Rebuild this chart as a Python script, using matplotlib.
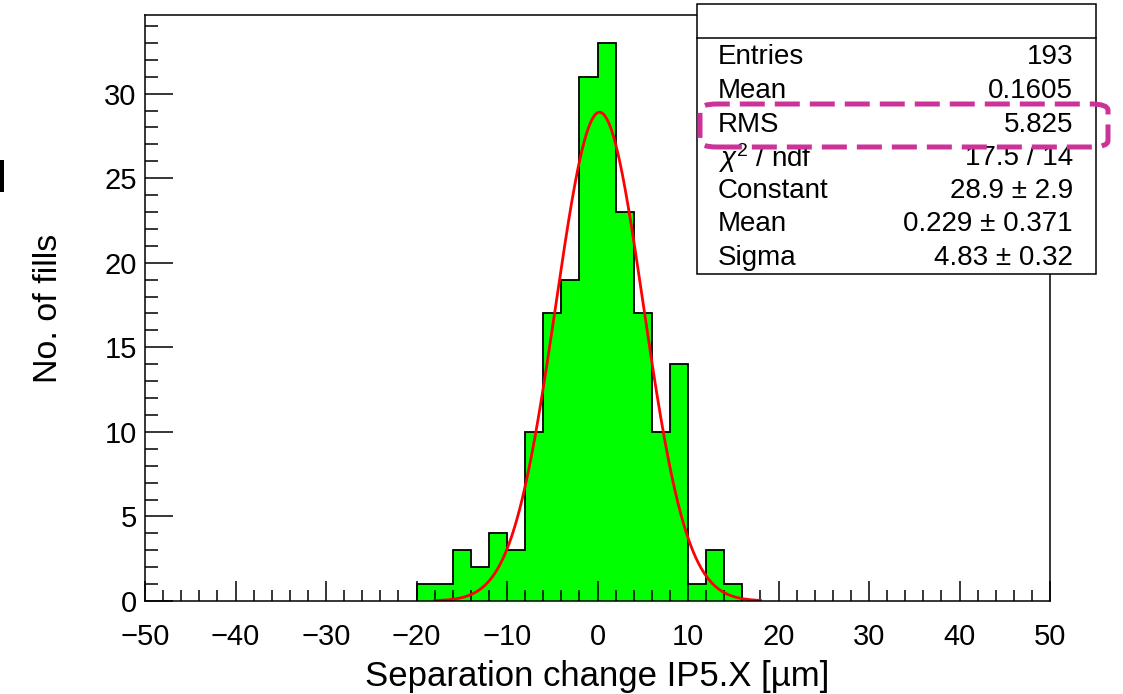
import numpy as np
import matplotlib
matplotlib.use("Agg")
import matplotlib.pyplot as plt
from matplotlib.patches import Rectangle, FancyBboxPatch
from matplotlib.ticker import MultipleLocator

plt.rcParams['font.family'] = ['Liberation Sans', 'DejaVu Sans']
plt.rcParams['mathtext.fontset'] = 'custom'
plt.rcParams['mathtext.rm'] = 'Liberation Sans'
plt.rcParams['mathtext.it'] = 'Liberation Sans:italic'

# ---------------------------------------------------------
# data
# ---------------------------------------------------------
bin_edges = np.arange(-20, 18, 2)
counts = [1, 1, 3, 2, 4, 3, 10, 17, 19, 31, 33, 23, 17, 10, 14, 1, 3, 1]

fit_const = 28.9
fit_mean = 0.229
fit_sigma = 4.83
fit_range = (-18, 18)

stat_names = ["Entries", "Mean", "RMS", r"$\chi^{2}$ / ndf", "Constant", "Mean", "Sigma"]
stat_values = ["193", "0.1605", "5.825", "17.5 / 14", "28.9 ± 2.9", "0.229 ± 0.371", "4.83 ± 0.32"]

W, H = 1123, 694
fig = plt.figure(figsize=(W / 100, H / 100), dpi=100)
ax = fig.add_axes([145 / W, 1 - 601 / H, (1050 - 145) / W, (601 - 15) / H])

# histogram
ax.bar(bin_edges[:-1], counts, width=2, align='edge', color='#00ff00', linewidth=0)
ax.stairs(counts, bin_edges, color='black', linewidth=1.3, baseline=0)

# gauss fit
xf = np.linspace(fit_range[0], fit_range[1], 400)
yf = fit_const * np.exp(-0.5 * ((xf - fit_mean) / fit_sigma) ** 2)
ax.plot(xf, yf, color='red', lw=2)

ax.set_xlim(-50, 50)
ax.set_ylim(0, 33 * 1.05)
ax.xaxis.set_major_locator(MultipleLocator(10))
ax.xaxis.set_minor_locator(MultipleLocator(2))
ax.yaxis.set_major_locator(MultipleLocator(5))
ax.yaxis.set_minor_locator(MultipleLocator(1))
ax.tick_params(axis='both', which='both', direction='in', top=False, right=False,
               width=1.1, labelsize=21)
ax.tick_params(axis='x', which='major', length=14.5, pad=16)
ax.tick_params(axis='x', which='minor', length=8)
ax.tick_params(axis='y', which='major', length=20, pad=6)
ax.tick_params(axis='y', which='minor', length=9.5)
for s in ax.spines.values():
    s.set_linewidth(1.1)

ax.set_xlabel("Separation change IP5.X [µm]", fontsize=25, labelpad=6)
ax.set_ylabel("No. of fills", fontsize=24.5, labelpad=29)

# stats box
def fx(px):
    return px / W

def fy(py):
    return 1 - py / H

fig.patches.append(Rectangle((fx(697), fy(274)), fx(1096) - fx(697), fy(4) - fy(274),
                             transform=fig.transFigure, facecolor='white',
                             edgecolor='black', lw=1.1, zorder=5))
fig.add_artist(plt.Line2D([fx(697), fx(1096)], [fy(38), fy(38)], color='black',
                          lw=1.1, transform=fig.transFigure, zorder=6))
row_y = [57, 91, 125, 158, 191, 224, 258]
for name, val, yy in zip(stat_names, stat_values, row_y):
    fig.text(fx(718), fy(yy), name, fontsize=20, ha='left', va='center', zorder=7)
    fig.text(fx(1073), fy(yy), val, fontsize=20, ha='right', va='center', zorder=7)

# highlight box
hl = FancyBboxPatch((fx(700), fy(147)), fx(1108) - fx(700), fy(104) - fy(147),
                    boxstyle="round,pad=0,rounding_size=0.015",
                    transform=fig.transFigure, facecolor='none', edgecolor='#cc3399',
                    lw=3.6, linestyle=(0, (5, 2)), zorder=8, mutation_aspect=H / W)
fig.patches.append(hl)

# small black mark at the left edge
fig.patches.append(Rectangle((0, fy(192)), fx(4), fy(160) - fy(192),
                             transform=fig.transFigure, facecolor='black', lw=0))

fig.savefig("out.png", dpi=100)
